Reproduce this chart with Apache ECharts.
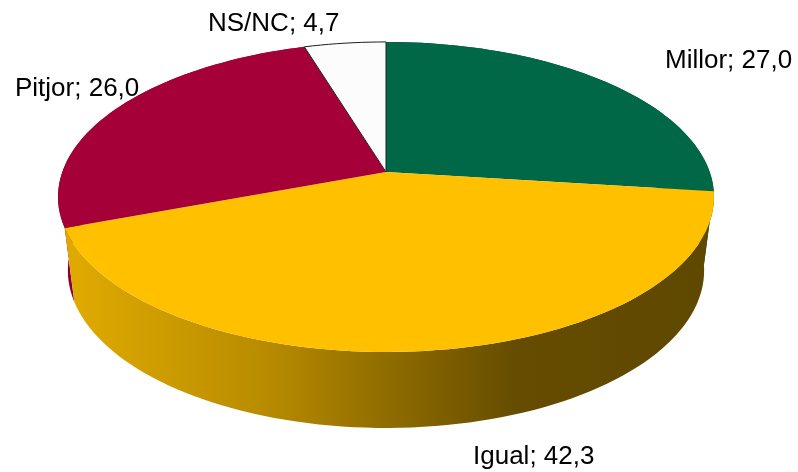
<!DOCTYPE html>
<html>
<head>
<meta charset="utf-8">
<style>html,body{margin:0;padding:0;background:#fff}#c{width:798px;height:472px}</style>
<script src="https://cdn.jsdelivr.net/npm/echarts@6/dist/echarts.min.js"></script>
</head>
<body>
<div id="c"></div>
<script>
const categories = ['Millor', 'Igual', 'Pitjor', 'NS/NC'];
const values = [27.0, 42.3, 26.0, 4.7];
const faceColors = ['#006747', '#FFC000', '#A50037', '#FCFCFC'];
const wallColors = ['#004A33',
  {type:'linear',x:72,y:0,x2:706,y2:0,global:true,colorStops:[
    {offset:0,color:'#DFAA00'},{offset:0.30,color:'#B98C00'},{offset:0.70,color:'#654C00'},{offset:1,color:'#5F4800'}]},
  '#8A002E', '#B0B0B0'];
const faceStrokes = [null, null, null, '#222222'];
const labelAnchors = [[665, 61], [473, 457], [15, 89], [208, 24]];

// perspective projection of the pie disc
const PERSP = -0.161, APEX_X = 386, TOP = {y:172,a:151,c:323.7}, BASE = {y:245,a:153.5,c:314};
function project(u, v, p) {
  const w = 1 + PERSP * v;
  return [APEX_X + p.c * u / w, p.y + p.a * v / w];
}
const rows = [];
let acc = 0;
values.forEach((v, i) => { rows.push([acc, acc + v, i]); acc += v; });

function rimUnit(api, pct) {
  const o = api.coord([0, 0]), e = api.coord([1, pct]);
  return [(e[0] - o[0]) / 100, (e[1] - o[1]) / 100];
}
function arc(api, from, to, p) {
  const n = Math.max(4, Math.ceil((to - from) * 2)), pts = [];
  for (let k = 0; k <= n; k++) {
    const u = rimUnit(api, from + (to - from) * k / n);
    pts.push(project(u[0], u[1], p));
  }
  return pts;
}
function renderWall(params, api) {
  const from = api.value(0), to = api.value(1), i = api.value(2);
  const mid = rimUnit(api, (from + to) / 2);
  const pts = arc(api, from, to, TOP).concat(arc(api, from, to, BASE).reverse());
  return {type:'polygon', z2: Math.round(mid[1] * 100) + 100, shape:{points:pts},
    style:{fill:wallColors[i], stroke:null}};
}
function renderFace(params, api) {
  const from = api.value(0), to = api.value(1), i = api.value(2);
  const pts = [project(0, 0, TOP)].concat(arc(api, from, to, TOP));
  return {type:'polygon', z2: i === 3 ? 10 : 1, shape:{points:pts},
    style:{fill:faceColors[i], stroke:faceStrokes[i], lineWidth: faceStrokes[i] ? 1 : 0}};
}
function renderLabel(params, api) {
  const i = api.value(2);
  return {type:'text', x:labelAnchors[i][0], y:labelAnchors[i][1],
    style:{text:categories[i] + '; ' + values[i].toFixed(1).replace('.', ','),
      fill:'#000', font:'26px "Liberation Sans", Arial, sans-serif', textAlign:'left', textVerticalAlign:'middle'}};
}
const chart = echarts.init(document.getElementById('c'), null, {renderer:'canvas'});
chart.setOption({
  animation:false,
  backgroundColor:'#fff',
  polar:{center:[386,172], radius:100},
  angleAxis:{type:'value', min:0, max:100, startAngle:90, clockwise:true, show:false},
  radiusAxis:{type:'value', min:0, max:1, show:false},
  series:[
    {type:'custom', coordinateSystem:'polar', data:rows, renderItem:renderWall, clip:false, z:1, silent:true},
    {type:'custom', coordinateSystem:'polar', data:rows, renderItem:renderFace, clip:false, z:2, silent:true},
    {type:'custom', coordinateSystem:'polar', data:rows, renderItem:renderLabel, clip:false, z:3, silent:true}
  ]
});
</script>
</body>
</html>
